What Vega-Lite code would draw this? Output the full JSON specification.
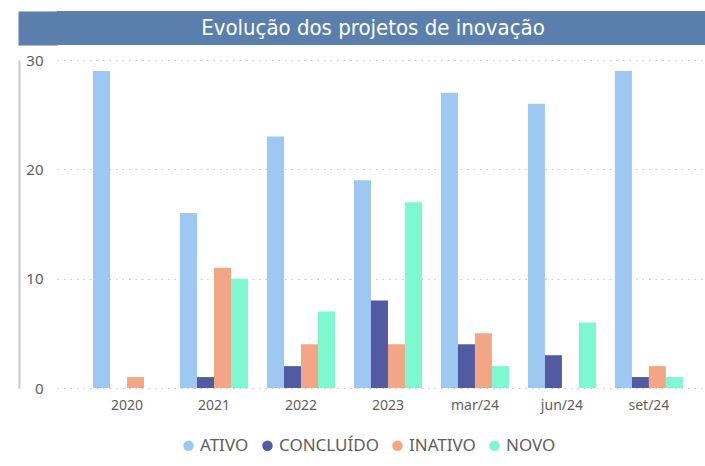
{
  "$schema": "https://vega.github.io/schema/vega-lite/v6.json",
  "padding": {"left": 18, "top": 11, "right": 0, "bottom": 0},
  "autosize": {"type": "pad"},
  "background": "white",
  "spacing": 5,
  "config": {
    "view": {"stroke": null},
    "font": "Noto Sans"
  },
  "vconcat": [
    {
      "width": 648,
      "height": 34,
      "view": {"fill": "#5B7FAD", "stroke": null},
      "data": {"values": [{"titulo": "Evolução dos projetos de inovação", "base": 0}]},
      "layer": [
        {
          "mark": {"type": "point", "opacity": 0},
          "encoding": {
            "y": {
              "field": "base",
              "type": "quantitative",
              "scale": {"domain": [0, 1]},
              "axis": {
                "title": null,
                "labels": false,
                "ticks": false,
                "grid": false,
                "domain": true,
                "domainColor": "#5B7FAD",
                "domainWidth": 39,
                "domainCap": "butt",
                "offset": 19.5,
                "minExtent": 0
              }
            }
          }
        },
        {
          "mark": {"type": "text", "font": "DejaVu Sans Condensed", "fontSize": 22, "color": "white", "dx": -8},
          "encoding": {"text": {"field": "titulo", "type": "nominal"}}
        }
      ]
    },
    {
      "width": 648,
      "height": 328,
      "resolve": {"scale": {"y": "independent"}, "axis": {"y": "independent"}},
      "layer": [
        {
          "data": {
            "values": [
              {"periodo": "2020", "status": "ATIVO", "valor": 29},
              {"periodo": "2020", "status": "INATIVO", "valor": 1},
              {"periodo": "2021", "status": "ATIVO", "valor": 16},
              {"periodo": "2021", "status": "CONCLUÍDO", "valor": 1},
              {"periodo": "2021", "status": "INATIVO", "valor": 11},
              {"periodo": "2021", "status": "NOVO", "valor": 10},
              {"periodo": "2022", "status": "ATIVO", "valor": 23},
              {"periodo": "2022", "status": "CONCLUÍDO", "valor": 2},
              {"periodo": "2022", "status": "INATIVO", "valor": 4},
              {"periodo": "2022", "status": "NOVO", "valor": 7},
              {"periodo": "2023", "status": "ATIVO", "valor": 19},
              {"periodo": "2023", "status": "CONCLUÍDO", "valor": 8},
              {"periodo": "2023", "status": "INATIVO", "valor": 4},
              {"periodo": "2023", "status": "NOVO", "valor": 17},
              {"periodo": "mar/24", "status": "ATIVO", "valor": 27},
              {"periodo": "mar/24", "status": "CONCLUÍDO", "valor": 4},
              {"periodo": "mar/24", "status": "INATIVO", "valor": 5},
              {"periodo": "mar/24", "status": "NOVO", "valor": 2},
              {"periodo": "jun/24", "status": "ATIVO", "valor": 26},
              {"periodo": "jun/24", "status": "CONCLUÍDO", "valor": 3},
              {"periodo": "jun/24", "status": "NOVO", "valor": 6},
              {"periodo": "set/24", "status": "ATIVO", "valor": 29},
              {"periodo": "set/24", "status": "CONCLUÍDO", "valor": 1},
              {"periodo": "set/24", "status": "INATIVO", "valor": 2},
              {"periodo": "set/24", "status": "NOVO", "valor": 1}
            ]
          },
          "mark": {"type": "bar"},
          "encoding": {
            "x": {
              "field": "periodo",
              "type": "nominal",
              "sort": ["2020", "2021", "2022", "2023", "mar/24", "jun/24", "set/24"],
              "scale": {"paddingInner": 0.218, "paddingOuter": 0.334, "align": 0.62},
              "axis": {
                "title": null,
                "labelAngle": 0,
                "domain": false,
                "ticks": false,
                "grid": false,
                "labelPadding": 10,
                "labelFontSize": 14,
                "labelColor": "#605E5C"
              }
            },
            "xOffset": {
              "field": "status",
              "type": "nominal",
              "sort": ["ATIVO", "CONCLUÍDO", "INATIVO", "NOVO"],
              "scale": {"domain": ["ATIVO", "CONCLUÍDO", "INATIVO", "NOVO"], "paddingInner": 0, "paddingOuter": 0}
            },
            "y": {
              "field": "valor",
              "type": "quantitative",
              "scale": {"domain": [0, 30], "nice": false},
              "axis": {
                "title": null,
                "orient": "left",
                "values": [0, 10, 20, 30],
                "domain": false,
                "ticks": false,
                "labelPadding": 14,
                "labelFontSize": 15,
                "labelColor": "#605E5C",
                "gridColor": "#C8C8C8",
                "gridDash": [1.5, 5],
                "gridWidth": 1,
                "minExtent": 39
              }
            },
            "color": {
              "field": "status",
              "type": "nominal",
              "scale": {
                "domain": ["ATIVO", "CONCLUÍDO", "INATIVO", "NOVO"],
                "range": ["#9DC8F1", "#525AA2", "#F2A686", "#7EF8D1"]
              },
              "legend": {
                "title": null,
                "orient": "none",
                "legendX": 123,
                "legendY": 426,
                "direction": "horizontal",
                "symbolType": "circle",
                "symbolSize": 110,
                "labelFontSize": 17,
                "labelColor": "#605E5C",
                "labelOffset": 3,
                "columnPadding": 10
              }
            }
          }
        },
        {
          "data": {"values": [{"base": 0}]},
          "mark": {"type": "point", "opacity": 0},
          "encoding": {
            "y": {
              "field": "base",
              "type": "quantitative",
              "scale": {"domain": [0, 1]},
              "axis": {
                "title": null,
                "orient": "left",
                "labels": false,
                "ticks": false,
                "grid": false,
                "domain": true,
                "domainColor": "#C8C8C8",
                "domainWidth": 2,
                "offset": 38,
                "minExtent": 0
              }
            }
          }
        }
      ]
    }
  ]
}
